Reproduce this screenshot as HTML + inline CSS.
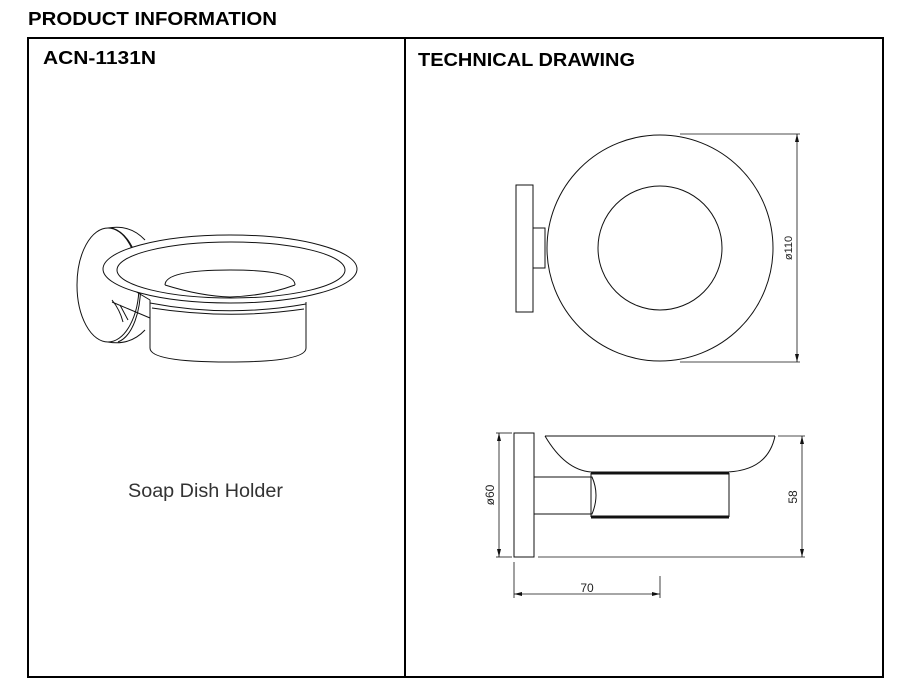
<!DOCTYPE html>
<html><head><meta charset="utf-8"><style>
body{margin:0;background:#fff;width:907px;height:698px;overflow:hidden;font-family:"Liberation Sans",sans-serif}
</style></head><body>
<svg width="907" height="698" viewBox="0 0 907 698" xmlns="http://www.w3.org/2000/svg" style="position:absolute;left:0;top:0">
<text x="28" y="25" font-family="Liberation Sans, sans-serif" font-weight="bold" font-size="18" fill="#000" textLength="249" lengthAdjust="spacingAndGlyphs">PRODUCT INFORMATION</text>
<rect x="28" y="38" width="855" height="639" fill="none" stroke="#000" stroke-width="2"/>
<line x1="405" y1="38" x2="405" y2="677" stroke="#000" stroke-width="2"/>
<text x="43" y="64" font-family="Liberation Sans, sans-serif" font-weight="bold" font-size="18" textLength="113" lengthAdjust="spacingAndGlyphs">ACN-1131N</text>
<text x="418" y="66" font-family="Liberation Sans, sans-serif" font-weight="bold" font-size="18" textLength="217" lengthAdjust="spacingAndGlyphs">TECHNICAL DRAWING</text>
<text x="128" y="497" font-family="Liberation Sans, sans-serif" font-size="19" fill="#333" textLength="155" lengthAdjust="spacingAndGlyphs">Soap Dish Holder</text>

<g fill="none" stroke="#111" stroke-width="1">
<ellipse cx="108" cy="285" rx="31" ry="57"/>
<path d="M108 228 Q130 224 145 240"/>
<path d="M108 342 Q130 346 145 330"/>
<path d="M112 228 C150 240 148 330 118 342"/>
<path d="M112 300 Q120 310 123 322 M120 305 L128 320"/>
<path d="M113 278 L150 300 M112 302 L150 318"/>
<ellipse cx="230" cy="269" rx="127" ry="34" fill="#fff"/>
<ellipse cx="231" cy="270" rx="114" ry="28"/>
<path d="M165 285 Q165 270 230 270 Q295 270 295 285"/>
<path d="M165 285 Q200 296 230 297 Q265 296 295 285"/>
<path d="M150 300 L150 348 Q150 362 228 362 Q306 362 306 348 L306 302"/>
<path d="M150 303 Q228 318 306 304"/>
<path d="M152 308 Q228 320 304 309"/>
<circle cx="660" cy="248" r="113"/>
<circle cx="660" cy="248" r="62"/>
<rect x="516" y="185" width="17" height="127"/>
<rect x="533" y="228" width="12" height="40"/>
<line x1="680" y1="134" x2="800" y2="134" stroke-width="0.8"/>
<line x1="680" y1="362" x2="800" y2="362" stroke-width="0.8"/>
<line x1="797" y1="134" x2="797" y2="362" stroke-width="0.8"/>
<rect x="514" y="433" width="20" height="124"/>
<path d="M545 436 L775 436 M545 436 Q565 470 591 472 L728 472 Q768 470 775 436"/>
<path d="M534 477 L592 477 Q600 495 592 514 L534 514"/>
<line x1="591" y1="473" x2="729" y2="473" stroke-width="3"/>
<line x1="591" y1="517" x2="729" y2="517" stroke-width="3"/>
<line x1="729" y1="473" x2="729" y2="517"/>
<line x1="591" y1="473" x2="591" y2="517"/>
<line x1="538" y1="557" x2="805" y2="557" stroke-width="0.8"/>
<line x1="778" y1="436" x2="805" y2="436" stroke-width="0.8"/>
<line x1="802" y1="436" x2="802" y2="557" stroke-width="0.8"/>
<line x1="496" y1="433" x2="512" y2="433" stroke-width="0.8"/>
<line x1="496" y1="557" x2="512" y2="557" stroke-width="0.8"/>
<line x1="499" y1="433" x2="499" y2="557" stroke-width="0.8"/>
<line x1="514" y1="562" x2="514" y2="598" stroke-width="0.8"/>
<line x1="660" y1="576" x2="660" y2="598" stroke-width="0.8"/>
<line x1="514" y1="594" x2="660" y2="594" stroke-width="0.8"/>
</g>
<g fill="#111">
<path d="M797 134 l-2 8 h4z M797 362 l-2 -8 h4z"/>
<path d="M802 436 l-2 8 h4z M802 557 l-2 -8 h4z"/>
<path d="M499 433 l-2 8 h4z M499 557 l-2 -8 h4z"/>
<path d="M514 594 l8 -2 v4z M660 594 l-8 -2 v4z"/>
</g>
<g font-family="Liberation Sans, sans-serif" font-size="11" fill="#222">
<text transform="translate(792,248) rotate(-90)" text-anchor="middle">ø110</text>
<text transform="translate(797,497) rotate(-90)" text-anchor="middle" font-size="12">58</text>
<text transform="translate(494,495) rotate(-90)" text-anchor="middle" font-size="12">ø60</text>
<text x="587" y="592" text-anchor="middle" font-size="12">70</text>
</g>
</svg>
</body></html>
